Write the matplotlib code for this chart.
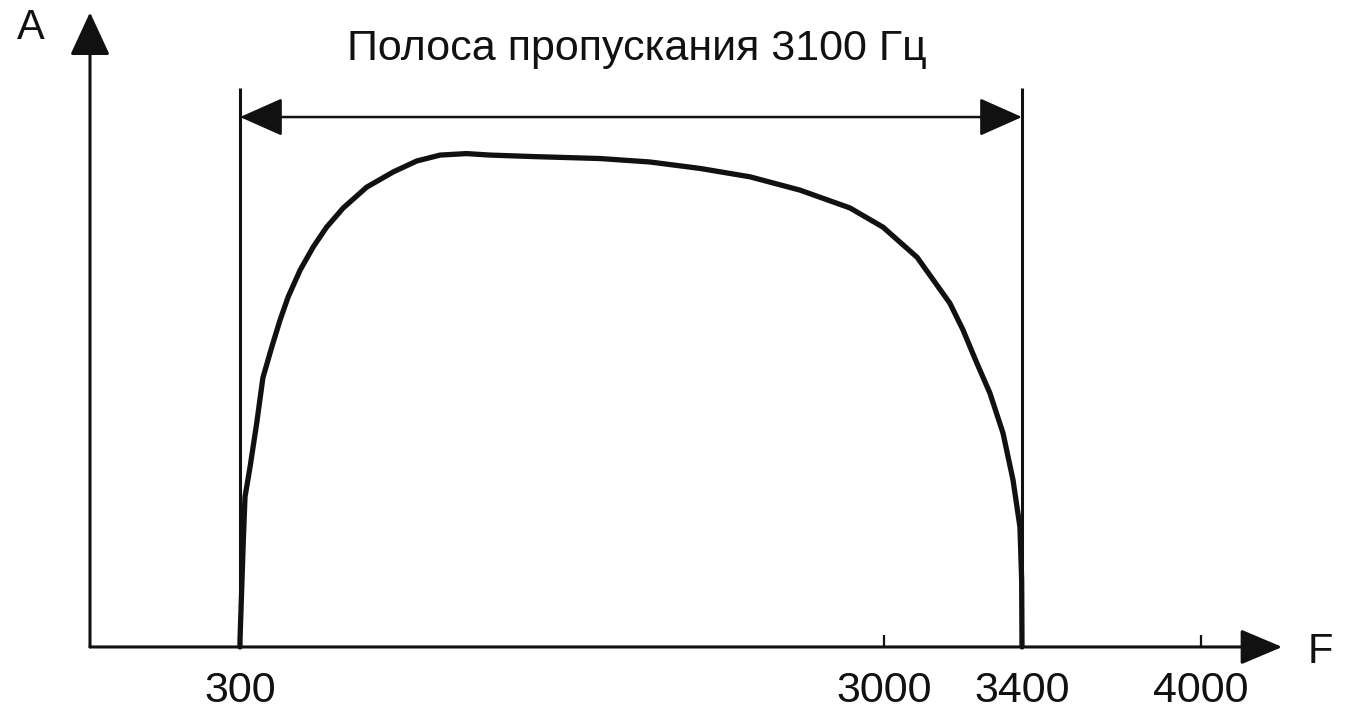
# АЧХ канала тональной частоты: полоса 300–3400 Гц

import numpy as np
import matplotlib.pyplot as plt

plt.rcParams["font.family"] = ["Liberation Sans", "DejaVu Sans"]

# частоты (Гц) и относительная амплитуда кривой
chastoty = [300, 300, 307, 314, 321, 342, 370, 396, 433, 468, 502, 552,
            607, 663, 733, 831, 943, 1041, 1139, 1250, 1348, 1528, 1809,
            2019, 2228, 2438, 2648, 2857, 2996, 3096, 3191, 3229, 3269,
            3307, 3345, 3374, 3394, 3399, 3400]
amplituda = [0.0, 0.014, 0.115, 0.217, 0.304, 0.364, 0.453, 0.545, 0.607,
             0.662, 0.709, 0.763, 0.81, 0.85, 0.889, 0.931, 0.962, 0.984,
             0.996, 0.999, 0.996, 0.993, 0.989, 0.982, 0.969, 0.952, 0.925,
             0.889, 0.85, 0.789, 0.696, 0.642, 0.575, 0.514, 0.433, 0.338,
             0.243, 0.136, 0.0]

podpisi_x = [300, 3000, 3400, 4000]
f_niz, f_verh = 300, 3400
zagolovok = "Полоса пропускания 3100 Гц"

# ось частот на рисунке не линейная — кусочно-линейная шкала
uzly_hz = [-180, 0, 300, 3000, 3400, 4000, 4546]
uzly_px = [0, 90, 240, 884, 1022, 1201, 1364]


def vpered(x):
    return np.interp(x, uzly_hz, uzly_px)


def nazad(p):
    return np.interp(p, uzly_px, uzly_hz)


fig = plt.figure(figsize=(13.64, 7.25), dpi=100)
ax = fig.add_axes([0, 0, 1, 1])
ax.set_xscale("function", functions=(vpered, nazad))
ax.set_xlim(-180, 4546)
ax.set_ylim(-0.158, 1.31)

CHERN = "#111111"

# кривая АЧХ
ax.plot(chastoty, amplituda, color=CHERN, lw=3.8, solid_joinstyle="round",
        solid_capstyle="round")

# границы полосы
ax.vlines([f_niz, f_verh], 0, 1.132, color=CHERN, lw=2.2)

# двусторонняя стрелка полосы
ax.annotate("", xy=(f_niz, 1.073), xytext=(f_verh, 1.073),
            arrowprops=dict(arrowstyle="<|-|>,head_length=2.7,head_width=1.2",
                            mutation_scale=10, color=CHERN, lw=1.8,
                            shrinkA=0, shrinkB=0))

# оси со стрелками
ax.annotate("", xy=(0, 1.285), xytext=(0, 0),
            arrowprops=dict(arrowstyle="-|>,head_length=2.7,head_width=1.25",
                            mutation_scale=10, color=CHERN, lw=2.2,
                            shrinkA=0, shrinkB=0))
ax.annotate("", xy=(4272, 0), xytext=(0, 0),
            arrowprops=dict(arrowstyle="-|>,head_length=2.6,head_width=1.1",
                            mutation_scale=10, color=CHERN, lw=2.2,
                            shrinkA=0, shrinkB=0))

for s in ax.spines.values():
    s.set_visible(False)
ax.spines["bottom"].set_position(("data", 0))
ax.set_yticks([])
ax.set_xticks(podpisi_x)
ax.set_xticklabels([str(v) for v in podpisi_x])
ax.tick_params(axis="x", direction="in", length=9, width=1.6, color=CHERN,
               labelsize=31, pad=17, labelcolor=CHERN)

ax.text(0.467, 0.932, zagolovok, transform=ax.transAxes, ha="center",
        va="center", fontsize=31, color=CHERN)
ax.text(31 / 1364, 1 - 28 / 725, "A", transform=ax.transAxes, ha="center",
        va="center", fontsize=30, color=CHERN)
ax.text(1320 / 1364, 1 - 652 / 725, "F", transform=ax.transAxes, ha="center",
        va="center", fontsize=30, color=CHERN)

fig.savefig("out.png", dpi=100, facecolor="white")
